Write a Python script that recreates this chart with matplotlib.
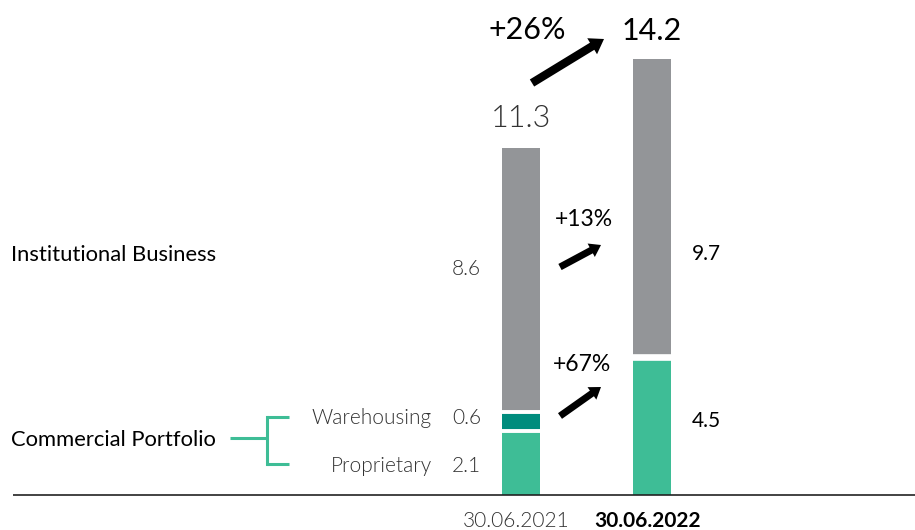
import matplotlib
matplotlib.use("Agg")
import matplotlib.pyplot as plt

# ---- data ----
dates = ["30.06.2021", "30.06.2022"]
proprietary_2021 = 2.1
warehousing_2021 = 0.6
commercial_2022 = 4.5
institutional = [8.6, 9.7]
totals = [11.3, 14.2]
growth_total = "+26%"
growth_inst = "+13%"
growth_comm = "+67%"

GRAY = "#939598"
TEAL = "#008c7d"
GREEN = "#3ebd96"
DARK = "#333333"

W, H = 915, 530
fig = plt.figure(figsize=(W / 100, H / 100), dpi=100)
ax = fig.add_axes([0, 0, 1, 1])
ax.set_axis_off()

# pixel mapping: x=0 -> 521 px, x=1 -> 652 px ; y=0 -> 495 px from top, 30.7 px per unit
xs_px = 131.0
x0_px = 521.0
ax.set_xlim(-x0_px / xs_px, (W - x0_px) / xs_px)
ys_px = 30.7
base_from_bottom = H - 495
ax.set_ylim(-base_from_bottom / ys_px, (H - base_from_bottom) / ys_px)

bw = 38 / xs_px
# bar 2021
ax.bar(0, proprietary_2021, width=bw, color=GREEN, linewidth=0)
ax.bar(0, warehousing_2021, bottom=proprietary_2021, width=bw, color=TEAL, linewidth=0)
ax.bar(0, institutional[0], bottom=proprietary_2021 + warehousing_2021, width=bw, color=GRAY, linewidth=0)
# bar 2022
ax.bar(1, commercial_2022, width=bw, color=GREEN, linewidth=0)
ax.bar(1, institutional[1], bottom=commercial_2022, width=bw, color=GRAY, linewidth=0)

# white separators between stacked segments
ax.hlines([proprietary_2021, proprietary_2021 + warehousing_2021], -bw / 2 - 0.01, bw / 2 + 0.01,
          color="white", lw=2.8, zorder=4)
ax.hlines([commercial_2022], 1 - bw / 2 - 0.01, 1 + bw / 2 + 0.01, color="white", lw=4.8, zorder=4)

# baseline
ax.plot([(13 - x0_px) / xs_px, (W - x0_px) / xs_px], [0, 0], color="#222222", lw=1.2,
        solid_capstyle="butt", zorder=5)


def px(xp, yp):
    """convert top-left pixel coords to data coords"""
    return (xp - x0_px) / xs_px, (495 - yp) / ys_px


FONT = "Lato"
LIGHT = 300
BIG = 22
MID = 16.5
SMALL = 15

# totals
ax.text(0, px(0, 127)[1], f"{totals[0]:.1f}", ha="center", va="baseline", fontsize=BIG,
        family=FONT, weight=LIGHT, color=DARK)
ax.text(1, px(0, 40)[1], f"{totals[1]:.1f}", ha="center", va="baseline", fontsize=BIG,
        family=FONT, color="black")

# segment values 2021 (left, light)
lx = px(481, 0)[0]
ax.text(lx, px(0, 275)[1], f"{institutional[0]:.1f}",
        ha="right", va="baseline", fontsize=SMALL, family=FONT, weight=LIGHT, color=DARK)
ax.text(lx, px(0, 424.5)[1], f"{warehousing_2021:.1f}",
        ha="right", va="baseline", fontsize=SMALL, family=FONT, weight=LIGHT, color=DARK)
ax.text(lx, px(0, 472.5)[1], f"{proprietary_2021:.1f}",
        ha="right", va="baseline", fontsize=SMALL, family=FONT, weight=LIGHT, color=DARK)

# segment values 2022 (right)
rx = px(692, 0)[0]
ax.text(rx, px(0, 260)[1], f"{institutional[1]:.1f}", ha="left", va="baseline", fontsize=SMALL,
        family=FONT, color="black")
ax.text(rx, px(0, 427)[1], f"{commercial_2022:.1f}", ha="left", va="baseline", fontsize=SMALL,
        family=FONT, color="black")

# sub-labels
ax.text(*px(432, 424.5), "Warehousing", ha="right", va="baseline", fontsize=SMALL, family=FONT,
        weight=LIGHT, color=DARK)
ax.text(*px(432, 472.5), "Proprietary", ha="right", va="baseline", fontsize=SMALL, family=FONT,
        weight=LIGHT, color=DARK)

# category labels
ax.text(*px(11, 261), "Institutional Business", ha="left", va="baseline", fontsize=15.8,
        family=FONT, color="black")
ax.text(*px(11, 446), "Commercial Portfolio", ha="left", va="baseline", fontsize=15.8,
        family=FONT, color="black")

# bracket
bc = GREEN
lw_b = 2.2
ax.plot(*zip(px(230, 438), px(267, 438)), color=bc, lw=lw_b, solid_capstyle="butt")
ax.plot(*zip(px(267, 417), px(267, 464)), color=bc, lw=lw_b, solid_capstyle="projecting")
ax.plot(*zip(px(267, 417), px(289, 417)), color=bc, lw=lw_b, solid_capstyle="butt")
ax.plot(*zip(px(267, 464), px(289, 464)), color=bc, lw=lw_b, solid_capstyle="butt")

# x labels
ax.text(*px(516, 527), dates[0], ha="center", va="baseline", fontsize=SMALL, family=FONT,
        weight=LIGHT, color=DARK)
ax.text(*px(648, 527), dates[1], ha="center", va="baseline", fontsize=SMALL, family=FONT,
        weight="bold", color="black")

# growth labels
ax.text(*px(527, 39), growth_total, ha="center", va="baseline", fontsize=BIG, family=FONT, color="black")
ax.text(*px(583.5, 226), growth_inst, ha="center", va="baseline", fontsize=MID, family=FONT, color="black")
ax.text(*px(582.5, 371), growth_comm, ha="center", va="baseline", fontsize=MID, family=FONT, color="black")


# arrows
def arrow(t, h, width, hw, hl):
    ax.annotate("", xy=px(*h), xytext=px(*t),
                arrowprops=dict(arrowstyle=f"simple,head_width={hw},head_length={hl},tail_width={width}",
                                color="black", shrinkA=0, shrinkB=0, lw=0))


arrow((532, 83), (604, 39), 0.6, 1.35, 1.0)
arrow((560, 267), (601, 245), 0.5, 1.1, 0.8)
arrow((560, 416), (601, 387), 0.5, 1.1, 0.8)

fig.savefig("out.png", dpi=100)
